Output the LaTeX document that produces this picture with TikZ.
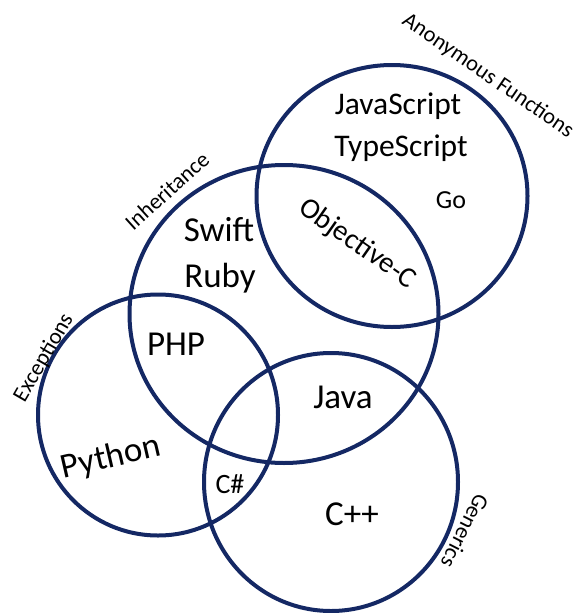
\documentclass[tikz,border=0pt]{standalone}
\usepackage{fontspec}
\setmainfont{Carlito}
\usetikzlibrary{shapes.geometric}
\definecolor{ring}{RGB}{20,40,100}
\tikzset{
  setring/.style={draw=ring, line width=4pt, ellipse, inner sep=0pt, outer sep=0pt},
  big/.style={font=\fontsize{35}{40}\selectfont, inner sep=0pt, text=black},
  top/.style={font=\fontsize{31.5}{36}\selectfont, inner sep=0pt, text=black},
  mid/.style={font=\fontsize{29}{34}\selectfont, inner sep=0pt, text=black},
  small/.style={font=\fontsize{26}{30}\selectfont, inner sep=0pt, text=black},
  tag/.style={font=\fontsize{22.5}{26}\selectfont, inner sep=0pt, text=black},
}
\begin{document}
\begin{tikzpicture}[x=1pt, y=-1pt]
\useasboundingbox (0,0) rectangle (577,613);
% sets
\node[setring, minimum width=271pt, minimum height=262pt] (anon) at (392,196) {};
\node[setring, minimum width=309pt, minimum height=298pt] (inh) at (284,314) {};
\node[setring, minimum width=240pt, minimum height=241pt] (exc) at (158,415) {};
\node[setring, minimum width=254pt, minimum height=258pt] (gen) at (331,482) {};
% set labels
\node[tag, rotate=-34.5] (lanon) at (488,76) {Anonymous Functions};
\node[tag, rotate=42] (linh) at (167,191) {Inheritance};
\node[tag, rotate=60] (lexc) at (44,358) {Exceptions};
\node[tag, rotate=-117] (lgen) at (465,531) {Generics};
% members
\node[top] (js) at (398,106) {JavaScript};
\node[top] (ts) at (401,148) {TypeScript};
\node[small] (go) at (451,200) {Go};
\node[big] (swift) at (219,230) {Swift};
\node[big] (ruby) at (220,278) {Ruby};
\node[mid, rotate=-35] (objc) at (357,244) {Objective-C};
\node[big] (php) at (176,344) {PHP};
\node[big] (java) at (343,397) {Java};
\node[big, rotate=13] (python) at (111,458) {Python};
\node[font=\fontsize{28}{32}\selectfont, inner sep=0pt] (cs) at (230,484) {C\#};
\node[big] (cpp) at (352,514) {C++};
\end{tikzpicture}
\end{document}
